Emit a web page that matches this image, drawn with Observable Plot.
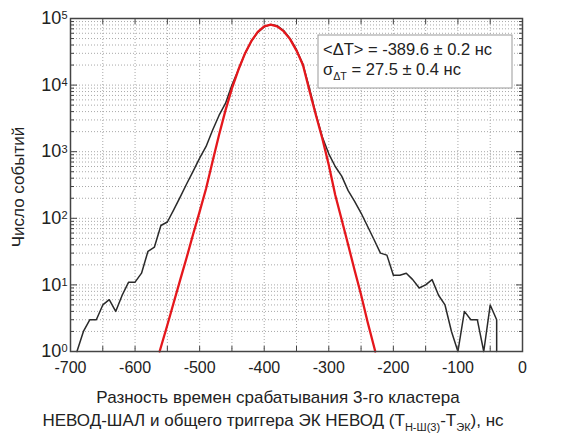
<!DOCTYPE html>
<html><head><meta charset="utf-8">
<script src="https://cdn.jsdelivr.net/npm/d3@7"></script>
<script src="https://cdn.jsdelivr.net/npm/@observablehq/plot@0.6"></script>
<style>body{margin:0;background:#fff} svg{display:block}</style>
</head><body><div id="chart"></div>
<script>
// measured histogram (10 ns bins)
const binCenters = [-690,-680,-670,-660,-650,-640,-630,-620,-610,-600,-590,-580,-570,-560,-550,-540,-530,-520,-510,-500,-490,-480,-470,-460,-450,-440,-430,-420,-410,-400,-390,-380,-370,-360,-350,-340,-330,-320,-310,-300,-290,-280,-270,-260,-250,-240,-230,-220,-210,-200,-190,-180,-170,-160,-150,-140,-130,-120,-110,-100,-90,-80,-70,-60,-50,-40,-40];
const measuredCounts = [1,2,3,3,5,6,4,7,11,11,15,32,37,78,88,135,210,330,510,800,1200,2100,3500,5300,10000,17000,29500,45500,62000,75000,81000,78000,66000,50000,34000,20500,9000,3700,1660,930,600,430,260,180,120,76,48,30,28,14,14,15,12,9,10,12,7,5,2,1,4,3,3,1,5,3,1];
// fitted curve as drawn
const fitX = [-562,-550,-540,-530,-520,-510,-500,-490,-480,-470,-460,-450,-440,-430,-420,-410,-400,-390,-380,-370,-360,-350,-340,-330,-320,-310,-300,-290,-280,-270,-260,-250,-240,-228];
const fitCounts = [1,2.5,5.5,12,26,58,126,280,710,1780,4170,8900,17000,29500,45700,63000,76000,81000,76000,64500,49000,33000,20000,8300,3550,1580,630,224,95,40,16.6,7.1,2.8,1];
// axes
const xTickLabels = [-700,-600,-500,-400,-300,-200,-100,0];
const xGridTicks = [-700,-650,-600,-550,-500,-450,-400,-350,-300,-250,-200,-150,-100,-50,0];
const yDecades = [1,10,100,1000,10000,100000];
const yMinorMultipliers = [2,3,4,5,6,7,8,9];
const yLabel = "Число событий";
const xLabelLine1 = "Разность времен срабатывания 3-го кластера";
const xLabelLine2 = [["НЕВОД-ШАЛ и общего триггера ЭК НЕВОД (Т",""],["Н-Ш(3)","sub"],["-Т",""],["ЭК","sub"],["), нс",""]];
const legendLine1 = "<ΔT> = -389.6 ± 0.2 нс";
const legendLine2 = [["σ",""],["ΔT","sub"],[" = 27.5 ± 0.4 нс",""]];

const font = "'Liberation Sans', Arial, Helvetica, sans-serif";
const yMinor = yDecades.slice(0,-1).flatMap(d => yMinorMultipliers.map(m => m*d));
const yAll = [...yDecades, ...yMinor];
const measured = binCenters.map((x,i)=>({x, n: measuredCounts[i]}));
const fit = fitX.map((x,i)=>({x, n: fitCounts[i]}));
const none = () => "";

const plot = Plot.plot({
  width: 562, height: 433,
  marginLeft: 70, marginRight: 40, marginTop: 18, marginBottom: 82,
  style: {fontFamily: font, background: "#fff", color: "#222"},
  x: {domain: [-700, 0]},
  y: {type: "log", domain: [1, 1e5]},
  marks: [
    Plot.gridX(xGridTicks, {stroke: "#a8a8a8", strokeOpacity: 1, strokeDasharray: "1,2"}),
    Plot.gridY(yAll, {stroke: "#a8a8a8", strokeOpacity: 1, strokeDasharray: "1,2"}),
    Plot.line(measured, {x: "x", y: "n", stroke: "#2a2a2a", strokeWidth: 1.5}),
    Plot.line(fit, {x: "x", y: "n", stroke: "#e5171c", strokeWidth: 2.3}),
    Plot.axisX(xTickLabels, {anchor: "bottom", tickSize: 0, tickPadding: 10, fontSize: 16, tickFormat: d => String(d), label: null}),
    Plot.axisX(xGridTicks, {anchor: "bottom", tickSize: 5, dy: -5, tickFormat: none, label: null, stroke: "#444"}),
    Plot.axisX(xGridTicks, {anchor: "top", tickSize: 5, dy: 5, tickFormat: none, label: null, stroke: "#444"}),
    Plot.axisY(yDecades, {anchor: "left", tickSize: 0, tickPadding: 3, fontSize: 18, tickFormat: d => "10^" + Math.round(Math.log10(d)), label: null}),
    Plot.axisY(yDecades, {anchor: "left", tickSize: 7, dx: 7, tickFormat: none, label: null, stroke: "#444"}),
    Plot.axisY(yMinor, {anchor: "left", tickSize: 4, dx: 4, tickFormat: none, label: null, stroke: "#444"}),
    Plot.axisY(yDecades, {anchor: "right", tickSize: 7, dx: -7, tickFormat: none, label: null, stroke: "#444"}),
    Plot.axisY(yMinor, {anchor: "right", tickSize: 4, dx: -4, tickFormat: none, label: null, stroke: "#444"}),
    Plot.frame({stroke: "#444", strokeWidth: 1.5})
  ]
});

const svg = d3.select(plot);
// superscripts for y tick labels
svg.selectAll('[aria-label="y-axis tick label"] text').each(function() {
  const t = d3.select(this);
  const s = t.text();
  if (!s.includes("^")) return;
  const [base, exp] = s.split("^");
  t.text(null);
  t.append("tspan").text(base);
  t.append("tspan").attr("font-size", 11).attr("dy", "-0.45em").text(exp);
});

function richText(parent, parts, x, y, size, anchor) {
  const t = parent.append("text").attr("x", x).attr("y", y).attr("font-size", size)
    .attr("font-family", font).attr("fill", "#222").attr("text-anchor", anchor);
  let sub = false;
  for (const [s, kind] of parts) {
    const ts = t.append("tspan").text(s);
    if (kind === "sub" && !sub) { ts.attr("font-size", size*0.65).attr("dy", size*0.3); sub = true; }
    else if (kind !== "sub" && sub) { ts.attr("dy", -size*0.3); sub = false; }
    else if (kind === "sub") ts.attr("font-size", size*0.65);
  }
  return t;
}

// y label
svg.append("text").attr("transform", "translate(24,187) rotate(-90)")
  .attr("text-anchor", "middle").attr("font-size", 17).attr("font-family", font).attr("fill", "#222")
  .text(yLabel);
// x label
richText(svg, [[xLabelLine1, ""]], 278, 403, 17, "middle");
richText(svg, xLabelLine2, 273, 426, 17, "middle");
// legend box
svg.append("rect").attr("x", 318).attr("y", 35).attr("width", 194).attr("height", 53)
  .attr("fill", "#fff").attr("stroke", "#999").attr("stroke-width", 1);
richText(svg, [[legendLine1, ""]], 323, 55, 16.5, "start");
richText(svg, legendLine2, 323, 75, 16.5, "start");

document.getElementById("chart").appendChild(plot);
</script>
</body></html>
